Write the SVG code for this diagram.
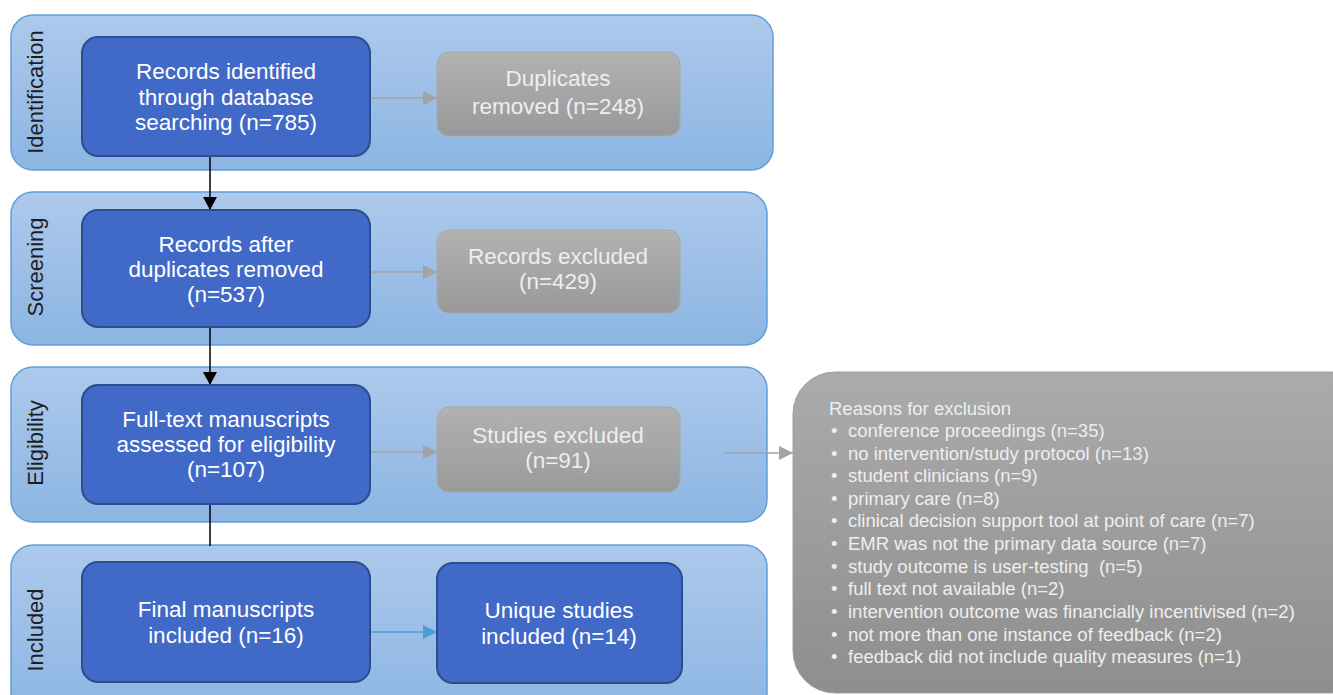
<svg xmlns="http://www.w3.org/2000/svg" width="1333" height="695" viewBox="0 0 1333 695">
<defs>
<linearGradient id="gBand" x1="0" y1="0" x2="0" y2="1">
<stop offset="0" stop-color="#adc9ec"/>
<stop offset="1" stop-color="#8cb5e3"/>
</linearGradient>
<linearGradient id="gGrey" x1="0" y1="0" x2="0" y2="1">
<stop offset="0" stop-color="#b2b2b2"/>
<stop offset="1" stop-color="#999999"/>
</linearGradient>
<linearGradient id="gReason" x1="0" y1="0" x2="0" y2="1">
<stop offset="0" stop-color="#ababab"/>
<stop offset="1" stop-color="#8e8e8e"/>
</linearGradient>
<marker id="mGrey" markerWidth="16" markerHeight="16" refX="14" refY="7" orient="auto" markerUnits="userSpaceOnUse">
<path d="M0,0 L14,7 L0,14 Z" fill="#a3a3a3"/>
</marker>
<marker id="mBlue" markerWidth="16" markerHeight="16" refX="14" refY="7" orient="auto" markerUnits="userSpaceOnUse">
<path d="M0,0 L14,7 L0,14 Z" fill="#4b9cdb"/>
</marker>
<marker id="mBlack" markerWidth="16" markerHeight="16" refX="13" refY="7" orient="auto" markerUnits="userSpaceOnUse">
<path d="M0,0 L13,7 L0,14 Z" fill="#000"/>
</marker>
</defs>
<style>
.band{fill:url(#gBand);stroke:#5f9fd9;stroke-width:1.5}
.blue{fill:#4169c8;stroke:#2c4e8e;stroke-width:2}
.grey{fill:url(#gGrey);stroke:#a8a8a8;stroke-width:1}
.reason{fill:url(#gReason);stroke:#a0a0a0;stroke-width:1}
.t{font-family:"Liberation Sans",Arial,sans-serif;font-size:22.5px;fill:#ffffff;text-anchor:middle}
.tg{font-family:"Liberation Sans",Arial,sans-serif;font-size:22.5px;fill:#eeeeee;text-anchor:middle}
.lab{font-family:"Liberation Sans",Arial,sans-serif;font-size:22px;fill:#1e1e1e;text-anchor:middle}
.r{font-family:"Liberation Sans",Arial,sans-serif;font-size:18.5px;fill:#eeeeee}
.cg{stroke:#a3a3a3;stroke-width:1.5;fill:none}
.cb{stroke:#4b9cdb;stroke-width:1.5;fill:none}
.ck{stroke:#000;stroke-width:1.5;fill:none}
</style>

<g id="band-identification">
<rect class="band" x="11" y="15" width="762" height="155" rx="22"/>
<text class="lab" transform="translate(43,92) rotate(-90)">Identification</text>
</g>
<g id="band-screening">
<rect class="band" x="11" y="192" width="756" height="153" rx="22"/>
<text class="lab" transform="translate(43,267) rotate(-90)">Screening</text>
</g>
<g id="band-eligibility">
<rect class="band" x="11" y="367" width="756" height="155" rx="22"/>
<text class="lab" transform="translate(43,443) rotate(-90)">Eligibility</text>
</g>
<g id="band-included">
<rect class="band" x="11" y="545" width="756" height="170" rx="22"/>
<text class="lab" transform="translate(43,630) rotate(-90)">Included</text>
</g>

<g id="connectors">
<line class="ck" x1="210" y1="157" x2="210" y2="210" marker-end="url(#mBlack)"/>
<line class="ck" x1="210" y1="328" x2="210" y2="385" marker-end="url(#mBlack)"/>
<line class="ck" x1="210" y1="505" x2="210" y2="546"/>
<line class="cg" x1="371" y1="98" x2="437" y2="98" marker-end="url(#mGrey)"/>
<line class="cg" x1="371" y1="272" x2="437" y2="272" marker-end="url(#mGrey)"/>
<line class="cg" x1="371" y1="452" x2="437" y2="452" marker-end="url(#mGrey)"/>
<line class="cb" x1="371" y1="632" x2="437" y2="632" marker-end="url(#mBlue)"/>
<line class="cg" x1="725" y1="453" x2="793" y2="453" marker-end="url(#mGrey)"/>
</g>

<g id="node-identified">
<rect class="blue" x="82" y="37" width="288" height="119" rx="16"/>
<text class="t" x="226" y="79">Records identified</text>
<text class="t" x="226" y="104.5">through database</text>
<text class="t" x="226" y="130">searching (n=785)</text>
</g>
<g id="node-duplicates">
<rect class="grey" x="437" y="52" width="243" height="84" rx="12"/>
<text class="tg" x="558" y="86">Duplicates</text>
<text class="tg" x="558" y="114">removed (n=248)</text>
</g>
<g id="node-after-dup">
<rect class="blue" x="82" y="210" width="288" height="117" rx="16"/>
<text class="t" x="226" y="252">Records after</text>
<text class="t" x="226" y="277">duplicates removed</text>
<text class="t" x="226" y="302">(n=537)</text>
</g>
<g id="node-records-excluded">
<rect class="grey" x="437" y="230" width="243" height="83" rx="12"/>
<text class="tg" x="558" y="264">Records excluded</text>
<text class="tg" x="558" y="289">(n=429)</text>
</g>
<g id="node-fulltext">
<rect class="blue" x="82" y="385" width="288" height="119" rx="16"/>
<text class="t" x="226" y="427">Full-text manuscripts</text>
<text class="t" x="226" y="452">assessed for eligibility</text>
<text class="t" x="226" y="477">(n=107)</text>
</g>
<g id="node-studies-excluded">
<rect class="grey" x="437" y="407" width="243" height="85" rx="12"/>
<text class="tg" x="558" y="443">Studies excluded</text>
<text class="tg" x="558" y="468">(n=91)</text>
</g>
<g id="node-final">
<rect class="blue" x="82" y="562" width="288" height="120" rx="16"/>
<text class="t" x="226" y="617">Final manuscripts</text>
<text class="t" x="226" y="643">included (n=16)</text>
</g>
<g id="node-unique">
<rect class="blue" x="437" y="563" width="245" height="120" rx="16"/>
<text class="t" x="559" y="618">Unique studies</text>
<text class="t" x="559" y="644">included (n=14)</text>
</g>
<g id="node-reasons">
<rect class="reason" x="793" y="372" width="580" height="321" rx="42"/>
<text class="r" x="829" y="415">Reasons for exclusion</text>
<g>
<text class="r" x="831" y="437">•</text><text class="r" x="848" y="437">conference proceedings (n=35)</text>
<text class="r" x="831" y="460">•</text><text class="r" x="848" y="460">no intervention/study protocol (n=13)</text>
<text class="r" x="831" y="482">•</text><text class="r" x="848" y="482">student clinicians (n=9)</text>
<text class="r" x="831" y="505">•</text><text class="r" x="848" y="505">primary care (n=8)</text>
<text class="r" x="831" y="527">•</text><text class="r" x="848" y="527">clinical decision support tool at point of care (n=7)</text>
<text class="r" x="831" y="550">•</text><text class="r" x="848" y="550">EMR was not the primary data source (n=7)</text>
<text class="r" x="831" y="573">•</text><text class="r" x="848" y="573" xml:space="preserve">study outcome is user-testing  (n=5)</text>
<text class="r" x="831" y="595">•</text><text class="r" x="848" y="595">full text not available (n=2)</text>
<text class="r" x="831" y="618">•</text><text class="r" x="848" y="618">intervention outcome was financially incentivised (n=2)</text>
<text class="r" x="831" y="641">•</text><text class="r" x="848" y="641">not more than one instance of feedback (n=2)</text>
<text class="r" x="831" y="663">•</text><text class="r" x="848" y="663">feedback did not include quality measures (n=1)</text>
</g>
</g>
</svg>
